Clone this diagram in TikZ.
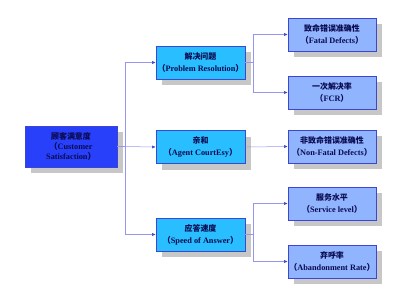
\documentclass[tikz,border=0pt]{standalone}
\usepackage{fontspec}
\setmainfont{Liberation Serif}
\newfontfamily\cjk{Noto Sans CJK SC}
\usepackage{tikz}
\usetikzlibrary{arrows.meta,shadows}
\definecolor{rootblue}{RGB}{40,64,250}
\definecolor{groupcyan}{RGB}{40,190,255}
\definecolor{metricblue}{RGB}{145,180,255}
\definecolor{edgeblue}{RGB}{60,70,210}
\definecolor{linkblue}{RGB}{150,150,240}
\definecolor{textnavy}{RGB}{10,10,80}
\tikzset{
  boxshadow/.style={drop shadow={shadow xshift=6bp, shadow yshift=-6bp, fill=black!22, opacity=1}},
  rootbox/.style={draw=edgeblue, line width=0.8pt, fill=rootblue, boxshadow, minimum width=92bp, minimum height=41bp, align=center, text=textnavy},
  groupbox/.style={draw=edgeblue, line width=0.6pt, fill=groupcyan, boxshadow, minimum width=89bp, minimum height=33bp, align=center, text=textnavy},
  metricbox/.style={draw=edgeblue, line width=0.6pt, fill=metricblue, boxshadow, minimum width=88bp, minimum height=33bp, align=center, text=textnavy},
  link/.style={draw=linkblue, line width=0.5pt},
  linkarrow/.style={link, -{Latex[length=3.5bp, width=3bp, fill=edgeblue, color=edgeblue]}}
}
\newcommand{\zh}[1]{{\cjk\bfseries\fontsize{8}{13}\selectfont #1}}
\newcommand{\en}[1]{{\fontsize{8.3}{13}\selectfont\bfseries{\cjk （}#1{\cjk ）}}}
\begin{document}
\begin{tikzpicture}[x=1bp, y=-1bp, every node/.style={inner sep=1bp}]
  \useasboundingbox (0,0) rectangle (400,289);
  % first level
  \node[rootbox] (cs) at (71,146.5) {\zh{顾客满意度}\\[-1.5bp]{\fontsize{8.3}{13}\selectfont\bfseries{\cjk （}Customer}\\[-1.5bp]{\fontsize{8.3}{13}\selectfont\bfseries Satisfaction{\cjk ）}}};
  % second level
  \node[groupbox] (pr) at (200.5,62.5) {\zh{解决问题}\\\en{Problem Resolution}};
  \node[groupbox] (ac) at (200.5,147) {\zh{亲和}\\\en{Agent CourtEsy}};
  \node[groupbox] (sa) at (200.5,234.5) {\zh{应答速度}\\\en{Speed of Answer}};
  % third level
  \node[metricbox] (fd) at (332,34.5) {\zh{致命错误准确性}\\\en{Fatal Defects}};
  \node[metricbox] (fcr) at (332,92.5) {\zh{一次解决率}\\\en{FCR}};
  \node[metricbox] (nfd) at (332,146.5) {\zh{非致命错误准确性}\\\en{Non-Fatal Defects}};
  \node[metricbox] (sl) at (332,203.5) {\zh{服务水平}\\\en{Service level}};
  \node[metricbox] (ar) at (332,261.5) {\zh{弃呼率}\\\en{Abandonment Rate}};
  % connectors
  \coordinate (trunk) at (125,146.5);
  \coordinate (prj) at (253,62.5);
  \coordinate (saj) at (253,234.5);
  \draw[link] (cs.east) -- (trunk);
  \draw[linkarrow] (trunk) |- (pr.west);
  \draw[linkarrow] (trunk) -- (ac.west);
  \draw[linkarrow] (trunk) |- (sa.west);
  \draw[link] (pr.east) -- (prj);
  \draw[linkarrow] (prj) |- (fd.west);
  \draw[linkarrow] (prj) |- (fcr.west);
  \draw[linkarrow] (ac.east) -- (nfd.west);
  \draw[link] (sa.east) -- (saj);
  \draw[linkarrow] (saj) |- (sl.west);
  \draw[linkarrow] (saj) |- (ar.west);
\end{tikzpicture}
\end{document}
